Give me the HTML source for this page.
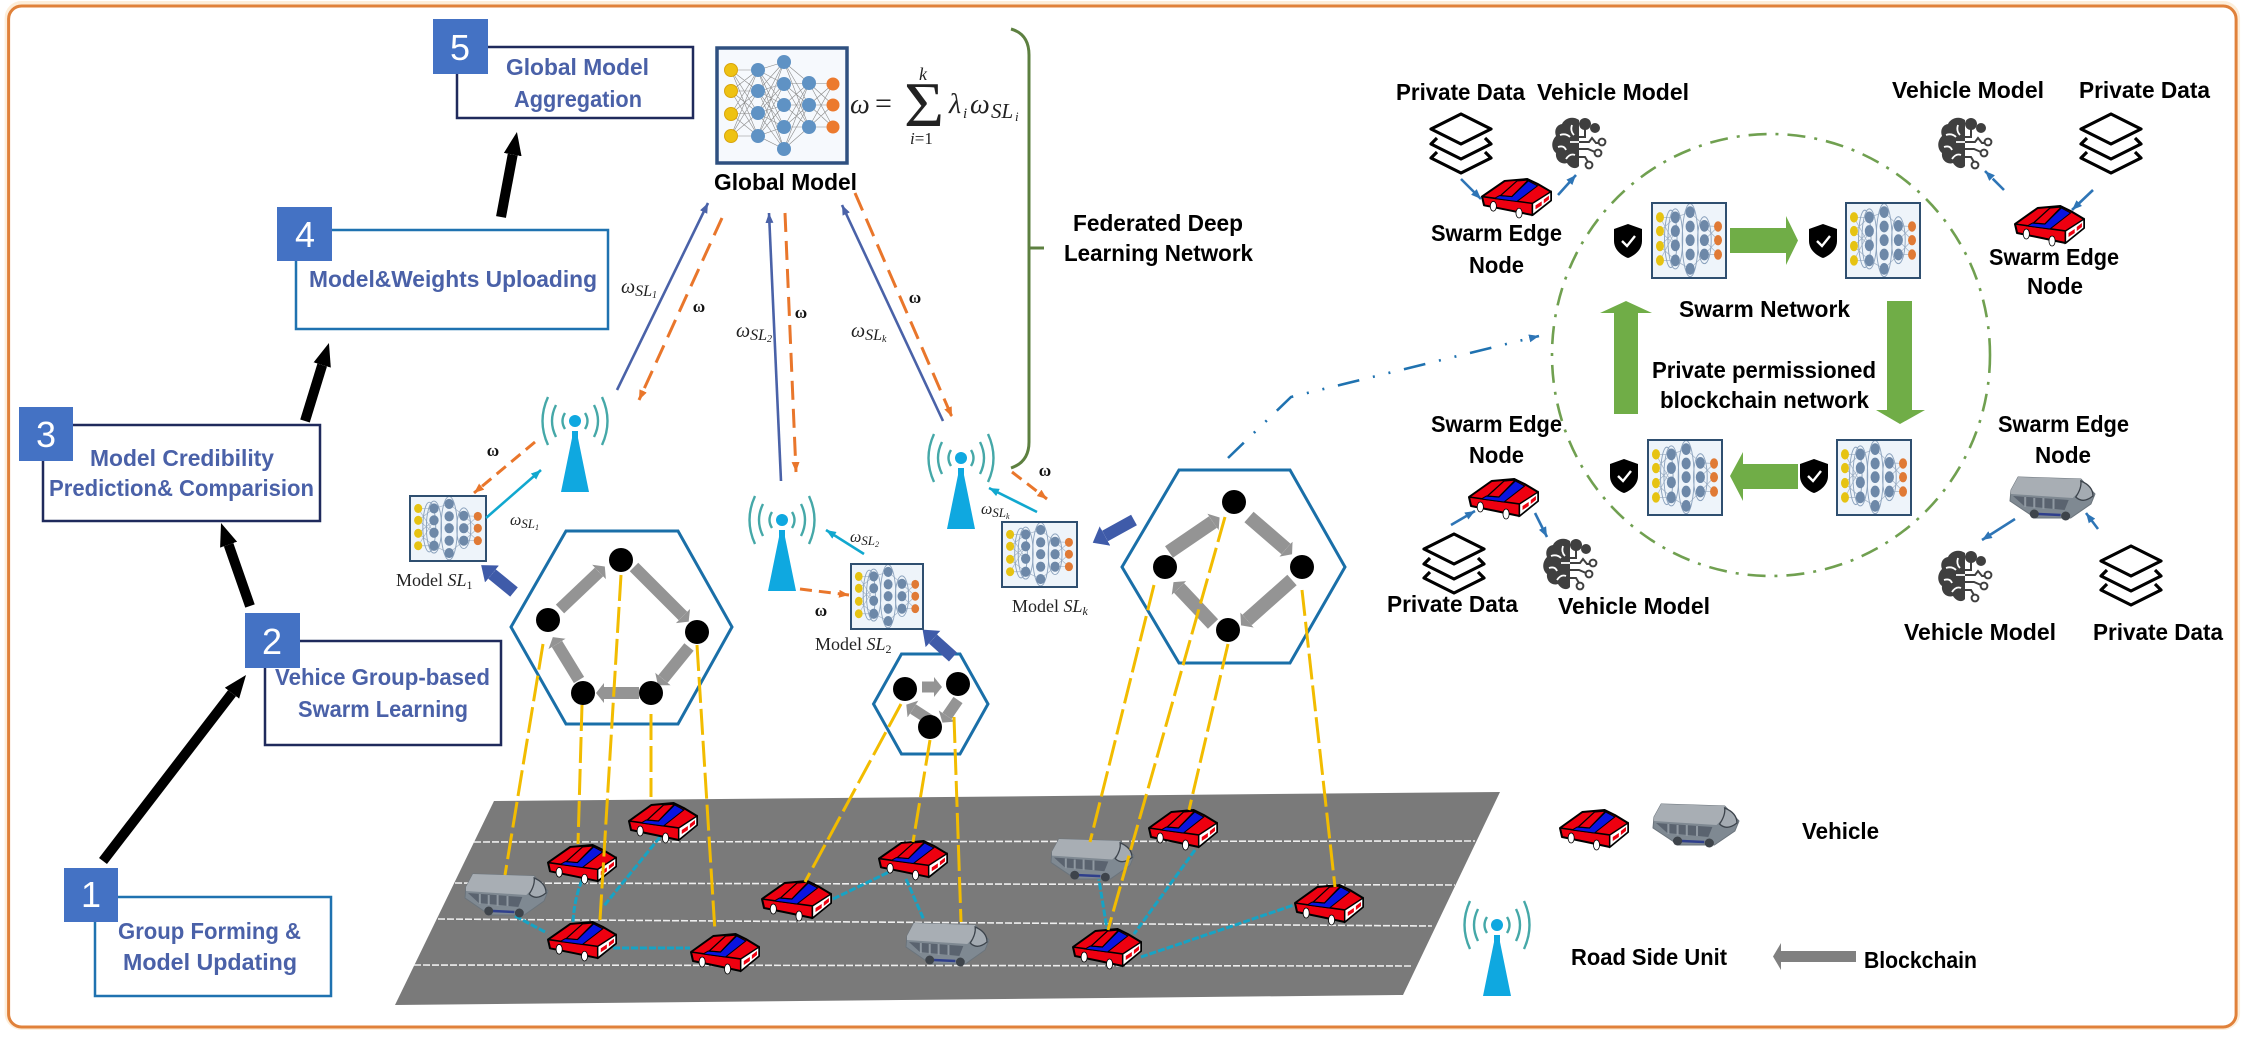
<!DOCTYPE html>
<html><head><meta charset="utf-8"><title>Swarm Federated Learning Diagram</title>
<style>html,body{margin:0;padding:0;background:#fff}svg{display:block}
.b{font:bold 23px "Liberation Sans",sans-serif;fill:#000}
.u{font:bold 23px "Liberation Sans",sans-serif;fill:#4a61a8}
.d{font:36px "Liberation Sans",sans-serif;fill:#fff;text-anchor:middle}
.m{font:18px "Liberation Serif",serif;fill:#222}
.o{font:bold 17px "Liberation Serif",serif;fill:#111;text-anchor:middle}
.w{font:italic 20px "Liberation Serif",serif;fill:#222}
</style></head><body>
<svg xmlns="http://www.w3.org/2000/svg" width="2249" height="1037" viewBox="0 0 2249 1037">
<defs>
<marker id="mK" markerUnits="userSpaceOnUse" markerWidth="24" markerHeight="20" refX="0" refY="9" orient="auto"><path d="M0 0L23 9L0 18Z" fill="#000"/></marker>
<marker id="mG" markerUnits="userSpaceOnUse" markerWidth="10" markerHeight="22" refX="0" refY="10" orient="auto"><path d="M0 0L8 10L0 20Z" fill="#949494"/></marker>
<marker id="mF" markerUnits="userSpaceOnUse" markerWidth="16" markerHeight="24" refX="0" refY="11" orient="auto"><path d="M0 0L14 11L0 22Z" fill="#3f5ba9"/></marker>
<marker id="mB" markerUnits="userSpaceOnUse" markerWidth="12" markerHeight="10" refX="10" refY="4" orient="auto"><path d="M0 0L10 4L0 8Z" fill="#4a62a8"/></marker>
<marker id="mO" markerUnits="userSpaceOnUse" markerWidth="12" markerHeight="10" refX="10" refY="4" orient="auto"><path d="M0 0L10 4L0 8Z" fill="#e9762b"/></marker>
<marker id="mT" markerUnits="userSpaceOnUse" markerWidth="12" markerHeight="10" refX="10" refY="4" orient="auto"><path d="M0 0L10 4L0 8Z" fill="#11a8cf"/></marker>
<marker id="mS" markerUnits="userSpaceOnUse" markerWidth="12" markerHeight="10" refX="10" refY="4" orient="auto"><path d="M0 0L10 4L0 8Z" fill="#2e75b6"/></marker>

<symbol id="car" viewBox="0 0 68 40" preserveAspectRatio="none" overflow="visible">
<path d="M0 18L22 2L44 0L54 5L67 13L67 22L49 37L26 32L2 27Z" fill="#ee0010" stroke="#000" stroke-width="2" stroke-linejoin="round"/>
<path d="M0 18L49 25L49 37" fill="none" stroke="#000" stroke-width="1.6"/>
<path d="M12 20L34 23L54 7L45 2L29 18L17 17Z" fill="#0a14e0" stroke="#000" stroke-width="1"/>
<path d="M18 17L34 2L45 1L29 18Z" fill="#ee0010" stroke="#000" stroke-width="1.2"/>
<path d="M49 25L67 13L67 22L49 37Z" fill="#fff" stroke="#000" stroke-width="1.4"/>
<path d="M52 27L58 23L58 27L52 31ZM60 21L65 17L65 21L60 25Z" fill="#ee0010"/>
<ellipse cx="11" cy="28" rx="3" ry="5" fill="#fff" stroke="#000" stroke-width=".8"/>
<ellipse cx="36" cy="35" rx="3" ry="5" fill="#fff" stroke="#000" stroke-width=".8"/>
</symbol>

<symbol id="bus" viewBox="0 0 84 44" preserveAspectRatio="none" overflow="visible">
<path d="M8 1L70 3L84 18L80 28L60 42L25 42L0 25L1 14Z" fill="#7f8992" stroke="#6b747c" stroke-width="1" stroke-linejoin="round"/>
<path d="M8 1L70 3L72 12L62 22L1 18L1 14Z" fill="#a8aeb4"/>
<path d="M70 5Q82 10 82 20Q72 28 65 21Q71 12 70 5Z" fill="#a4abb2" stroke="#3d444c" stroke-width="1.3"/>
<path d="M3 20L58 24L54 34L14 30Z" fill="#5a636f"/>
<path d="M15 21V31M24 22V32M33 22V33M43 23V33" stroke="#8f98a1" stroke-width="2"/>
<path d="M28 38L50 39" stroke="#2f3f8c" stroke-width="2.5"/>
<circle cx="24" cy="38" r="4.5" fill="#3e444b"/><circle cx="55" cy="40" r="4.5" fill="#3e444b"/>
</symbol>

<symbol id="nn" viewBox="0 0 130 115" preserveAspectRatio="none">
<rect width="130" height="115" fill="#f6f9fd"/>
<path d="M14 22L41 22M14 22L41 43M14 22L41 65M14 22L41 88M14 43L41 22M14 43L41 43M14 43L41 65M14 43L41 88M14 66L41 22M14 66L41 43M14 66L41 65M14 66L41 88M14 88L41 22M14 88L41 43M14 88L41 65M14 88L41 88M41 22L67 14M41 22L67 36M41 22L67 57M41 22L67 79M41 22L67 101M41 43L67 14M41 43L67 36M41 43L67 57M41 43L67 79M41 43L67 101M41 65L67 14M41 65L67 36M41 65L67 57M41 65L67 79M41 65L67 101M41 88L67 14M41 88L67 36M41 88L67 57M41 88L67 79M41 88L67 101M67 14L92 35M67 14L92 57M67 14L92 79M67 36L92 35M67 36L92 57M67 36L92 79M67 57L92 35M67 57L92 57M67 57L92 79M67 79L92 35M67 79L92 57M67 79L92 79M67 101L92 35M67 101L92 57M67 101L92 79M92 35L116 36M92 35L116 57M92 35L116 79M92 57L116 36M92 57L116 57M92 57L116 79M92 79L116 36M92 79L116 57M92 79L116 79" stroke="#8a8a8a" stroke-width=".6" fill="none"/>
<g fill="#eec212" stroke="#d8a50e"><circle cx="14" cy="22" r="6.5"/><circle cx="14" cy="43" r="6.5"/><circle cx="14" cy="66" r="6.5"/><circle cx="14" cy="88" r="6.5"/></g>
<g fill="#5f92c4"><circle cx="41" cy="22" r="7"/><circle cx="41" cy="43" r="7"/><circle cx="41" cy="65" r="7"/><circle cx="41" cy="88" r="7"/><circle cx="67" cy="14" r="7"/><circle cx="67" cy="36" r="7"/><circle cx="67" cy="57" r="7"/><circle cx="67" cy="79" r="7"/><circle cx="67" cy="101" r="7"/><circle cx="92" cy="35" r="7"/><circle cx="92" cy="57" r="7"/><circle cx="92" cy="79" r="7"/></g>
<g fill="#ec7a2e"><circle cx="116" cy="36" r="6.5"/><circle cx="116" cy="57" r="6.5"/><circle cx="116" cy="79" r="6.5"/></g>
</symbol>

<symbol id="nn2" viewBox="0 0 130 115" preserveAspectRatio="none">
<rect width="130" height="115" fill="#eef4fa"/>
<path d="M14 22L41 22M14 22L41 65M14 43L41 22M14 43L41 65M14 66L41 43M14 66L41 88M14 88L41 43M14 88L41 88M92 35L116 36M92 35L116 57M92 57L116 36M92 57L116 79M92 79L116 57M92 79L116 79M41 22L67 14M41 88L67 101M67 14L92 35M67 101L92 79" stroke="#a5b5c8" stroke-width="1.2" fill="none"/>
<g fill="none" stroke="#8ba2bd" stroke-width="1.6"><ellipse cx="41" cy="55" rx="13" ry="46"/><ellipse cx="67" cy="57" rx="14" ry="56"/><ellipse cx="33" cy="55" rx="11" ry="44"/><ellipse cx="92" cy="57" rx="12" ry="36"/></g>
<g fill="#e6c312"><ellipse cx="14" cy="22" rx="7" ry="8"/><ellipse cx="14" cy="43" rx="7" ry="8"/><ellipse cx="14" cy="66" rx="7" ry="8"/><ellipse cx="14" cy="88" rx="7" ry="8"/></g>
<g fill="#6d88a8"><ellipse cx="41" cy="22" rx="8" ry="9"/><ellipse cx="41" cy="43" rx="8" ry="9"/><ellipse cx="41" cy="65" rx="8" ry="9"/><ellipse cx="41" cy="88" rx="8" ry="9"/><ellipse cx="67" cy="14" rx="8" ry="9"/><ellipse cx="67" cy="36" rx="8" ry="9"/><ellipse cx="67" cy="57" rx="8" ry="9"/><ellipse cx="67" cy="79" rx="8" ry="9"/><ellipse cx="67" cy="101" rx="8" ry="9"/><ellipse cx="92" cy="35" rx="8" ry="9"/><ellipse cx="92" cy="57" rx="8" ry="9"/><ellipse cx="92" cy="79" rx="8" ry="9"/></g>
<g fill="#e07a35"><ellipse cx="116" cy="36" rx="7" ry="8"/><ellipse cx="116" cy="57" rx="7" ry="8"/><ellipse cx="116" cy="79" rx="7" ry="8"/></g>
</symbol>

<symbol id="rsu" viewBox="-34 -26 68 100" overflow="visible">
<path d="M-3 10L3 10L3 17L14 71L-14 71L-3 17Z" fill="#0fa8e0"/>
<circle r="6" fill="#0fa8e0"/>
<g fill="none" stroke="#45a8a8" stroke-width="2.4">
<path d="M-10 -8Q-15 0 -10 8M10 -8Q15 0 10 8"/>
<path d="M-19 -16Q-27 0 -19 16M19 -16Q27 0 19 16"/>
<path d="M-27 -24Q-38 0 -27 24M27 -24Q38 0 27 24"/>
</g>
</symbol>

<symbol id="lay" viewBox="0 0 62 62" overflow="visible">
<g fill="#fff" stroke="#000" stroke-width="3.2" stroke-linejoin="round">
<path d="M7 39L1 45L31 60L61 45L55 39" fill="none"/>
<path d="M7 25L1 31L31 46L61 31L55 25" fill="none"/>
<path d="M31 1L61 16L31 31L1 16Z"/>
</g>
</symbol>

<symbol id="brain" viewBox="0 0 54 53" overflow="visible">
<path d="M27 3C20-2 12 2 10 7C4 8 2 14 4 19C-1 24-1 32 4 36C3 43 9 48 15 46C18 51 24 53 27 49Z" fill="#3f3f3f"/>
<circle cx="33" cy="7" r="6" fill="#3f3f3f"/><circle cx="43" cy="11" r="5" fill="#3f3f3f"/>
<path d="M8 18Q14 16 18 20M20 8Q18 14 22 18M6 30Q12 28 14 33M14 42Q18 36 23 38M18 25H27" stroke="#fff" stroke-width="1.8" fill="none"/>
<path d="M27 25H37L40 21L44 26H47M27 32H36L43 35M27 20H33V12M27 40H33L36 45" fill="none" stroke="#3f3f3f" stroke-width="2"/>
<circle cx="50" cy="25" r="3.4" fill="none" stroke="#3f3f3f" stroke-width="2"/>
<circle cx="46" cy="36" r="3.4" fill="none" stroke="#3f3f3f" stroke-width="2"/>
<circle cx="37" cy="48" r="3.4" fill="none" stroke="#3f3f3f" stroke-width="2"/>
</symbol>

<symbol id="sh" viewBox="0 0 28 34" overflow="visible">
<path d="M14 0L28 5V17C28 26 20 32 14 34C8 32 0 26 0 17V5Z" fill="#000"/>
<path d="M8 17L13 22L21 12" fill="none" stroke="#fff" stroke-width="2.4"/>
</symbol>
</defs>

<rect width="2249" height="1037" fill="#fff"/>
<rect x="8.6" y="5" width="2227.5" height="1021" rx="13" fill="none" stroke="#fdeeda" stroke-width="8"/>
<rect x="8.6" y="6" width="2227.5" height="1021" rx="13" fill="#fff" stroke="#e0813a" stroke-width="3"/>

<!-- Road -->
<polygon points="494,801 1500,792 1403,995 395,1005" fill="#7a7a7a"/>
<g stroke="#eeeeee" stroke-width="1.6" stroke-dasharray="7 2" fill="none">
<path d="M474 842L1475 841"/><path d="M455 883L1455 885"/><path d="M438 919L1432 926"/><path d="M414 965L1412 966"/>
</g>
<!-- teal links -->
<g stroke="#17a3c4" stroke-width="3" fill="none" stroke-dasharray="7 2">
<path d="M515 916L547 933"/><path d="M582 880Q574 900 573 923"/><path d="M660 837L603 907"/><path d="M613 948L690 948"/>
<path d="M833 899L889 872"/><path d="M906 879L924 920"/><path d="M1098 874L1107 929"/><path d="M1195 850L1134 934"/><path d="M1141 957L1294 905"/>
</g>
<!-- vehicles -->
<use href="#car" x="629" y="803" width="69" height="40"/>
<use href="#car" x="548" y="845" width="69" height="39"/>
<use href="#car" x="548" y="922" width="69" height="39"/>
<use href="#car" x="691" y="934" width="69" height="40"/>
<use href="#bus" x="465" y="873" width="83" height="44"/>
<use href="#car" x="762" y="881" width="70" height="40"/>
<use href="#car" x="879" y="841" width="69" height="39"/>
<use href="#bus" x="906" y="922" width="83" height="44"/>
<use href="#bus" x="1051" y="838" width="83" height="43"/>
<use href="#car" x="1149" y="810" width="69" height="40"/>
<use href="#car" x="1073" y="929" width="69" height="40"/>
<use href="#car" x="1295" y="885" width="69" height="40"/>

<!-- Hexagons -->
<g fill="#fff" stroke="#1a6fa8" stroke-width="3">
<polygon points="511,627 566,531 678,531 732,627 678,724 566,724"/>
<polygon points="873.5,704 901.5,654 960,654 988,704 960,754 901.5,754"/>
<polygon points="1122,567 1179,470 1290,470 1345,567 1290,663 1179,663"/>
</g>
<!-- grey arrows -->
<g stroke="#949494" stroke-width="12" fill="none">
<path d="M560 609L599 572" marker-end="url(#mG)"/><path d="M634 567L683 616" marker-end="url(#mG)"/><path d="M689 647L663 679" marker-end="url(#mG)"/><path d="M639 693L604 693" marker-end="url(#mG)"/><path d="M579 680L557 644" marker-end="url(#mG)"/>
<path d="M922 687L934 687" stroke-width="11" marker-end="url(#mG)"/><path d="M958 700L947 716" stroke-width="11" marker-end="url(#mG)"/><path d="M930 720L913 709" stroke-width="11" marker-end="url(#mG)"/>
<path d="M1169 552L1213 522" stroke-width="14" marker-end="url(#mG)"/><path d="M1249 517L1286 549" stroke-width="14" marker-end="url(#mG)"/><path d="M1292 580L1247 620" stroke-width="14" marker-end="url(#mG)"/><path d="M1213 624L1179 588" stroke-width="14" marker-end="url(#mG)"/>
</g>
<!-- yellow dashes -->
<g stroke="#f2bc00" stroke-width="3" fill="none" stroke-dasharray="26 6">
<path d="M543 644L505 875"/><path d="M582 705L578 844"/><path d="M621 575L600 920"/><path d="M651 714L651 797"/><path d="M697 645L715 932"/>
<path d="M901 704L805 882"/><path d="M930 740L913 842"/><path d="M954 717L961 922"/>
<path d="M1154 585L1090 842"/><path d="M1225 517L1108 930"/><path d="M1228 644L1189 810"/><path d="M1302 590L1335 887"/>
</g>
<!-- swarm nodes -->
<g fill="#000">
<circle cx="621" cy="560" r="12"/><circle cx="548" cy="620" r="12"/><circle cx="697" cy="632" r="12"/><circle cx="583" cy="693" r="12"/><circle cx="651" cy="693" r="12"/>
<circle cx="905" cy="689" r="12"/><circle cx="958" cy="684" r="12"/><circle cx="930" cy="727" r="12"/>
<circle cx="1234" cy="502" r="12"/><circle cx="1165" cy="567" r="12"/><circle cx="1302" cy="567" r="12"/><circle cx="1228" cy="630" r="12"/>
</g>
<!-- fat blue -->
<g stroke="#3f5ba9" stroke-width="12" fill="none">
<path d="M514 592L492 574" marker-end="url(#mF)"/><path d="M953 657L933 639" marker-end="url(#mF)"/><path d="M1134 520L1105 536" marker-end="url(#mF)"/>
</g>
<!-- black process arrows -->
<g stroke="#000" stroke-width="10" fill="none">
<path d="M501 217L512.7 154.6" marker-end="url(#mK)"/>
<path d="M305 421L322.2 365" marker-end="url(#mK)"/>
<path d="M250 606L228.6 544.7" marker-end="url(#mK)"/>
<path d="M103 861L232 693.2" marker-end="url(#mK)"/>
</g>
<!-- Process boxes -->
<g fill="#fff" stroke-width="2.5">
<rect x="457" y="47" width="236" height="71" stroke="#1f2a5c"/>
<rect x="296" y="230" width="312" height="99" stroke="#1f72b0"/>
<rect x="43" y="425" width="277" height="96" stroke="#1f2a5c"/>
<rect x="265" y="641" width="236" height="104" stroke="#1f2a5c"/>
<rect x="95" y="897" width="236" height="99" stroke="#1f72b0"/>
</g>
<g fill="#4472c4">
<rect x="433" y="19" width="55" height="55"/><rect x="277" y="207" width="55" height="54"/><rect x="19" y="407" width="54" height="54"/><rect x="245" y="613" width="55" height="55"/><rect x="64" y="868" width="54" height="54"/>
</g>
<text class="d" x="460" y="60">5</text><text class="d" x="305" y="247">4</text><text class="d" x="46" y="447">3</text><text class="d" x="272" y="654">2</text><text class="d" x="91" y="907">1</text>
<text class="u" x="506" y="75" textLength="143" lengthAdjust="spacingAndGlyphs">Global Model</text>
<text class="u" x="514" y="107" textLength="128" lengthAdjust="spacingAndGlyphs">Aggregation</text>
<text class="u" x="309" y="287" textLength="288" lengthAdjust="spacingAndGlyphs">Model&amp;Weights Uploading</text>
<text class="u" x="90" y="466" textLength="184" lengthAdjust="spacingAndGlyphs">Model Credibility</text>
<text class="u" x="49" y="496" textLength="265" lengthAdjust="spacingAndGlyphs">Prediction&amp; Comparision</text>
<text class="u" x="275" y="685" textLength="215" lengthAdjust="spacingAndGlyphs">Vehice Group-based</text>
<text class="u" x="298" y="717" textLength="170" lengthAdjust="spacingAndGlyphs">Swarm Learning</text>
<text class="u" x="118" y="939" textLength="183" lengthAdjust="spacingAndGlyphs">Group Forming &amp;</text>
<text class="u" x="123" y="970" textLength="174" lengthAdjust="spacingAndGlyphs">Model Updating</text>

<!-- Global model -->
<use href="#nn" x="717" y="48" width="130" height="115"/>
<rect x="717" y="48" width="130" height="115" fill="none" stroke="#2f5080" stroke-width="3.5"/>
<text class="b" x="714" y="190" textLength="143" lengthAdjust="spacingAndGlyphs">Global Model</text>
<g font-family="Liberation Serif,serif" fill="#222">
<text x="850" y="113" font-size="28" font-style="italic">ω</text>
<text x="875" y="113" font-size="30">=</text>
<text x="904" y="126" font-size="64" textLength="40" lengthAdjust="spacingAndGlyphs">Σ</text>
<text x="919" y="80" font-size="18" font-style="italic">k</text>
<text x="910" y="144" font-size="17"><tspan font-style="italic">i</tspan>=1</text>
<text x="949" y="113" font-size="28" font-style="italic">λ</text>
<text x="963" y="118" font-size="15" font-style="italic">i</text>
<text x="970" y="113" font-size="28" font-style="italic">ω</text>
<text x="991" y="118" font-size="21" font-style="italic">SL</text>
<text x="1015" y="121" font-size="13" font-style="italic">i</text>
</g>
<!-- brace -->
<path d="M1011 29Q1029 34 1029 55V442Q1029 462 1011 468M1029 248H1044" fill="none" stroke="#5d8040" stroke-width="3"/>
<text class="b" x="1073" y="231" textLength="170" lengthAdjust="spacingAndGlyphs">Federated Deep</text>
<text class="b" x="1064" y="261" textLength="189" lengthAdjust="spacingAndGlyphs">Learning Network</text>

<!-- Small models -->
<use href="#nn2" x="410" y="496" width="76" height="65"/><rect x="410" y="496" width="76" height="65" fill="none" stroke="#2f4f70" stroke-width="2"/>
<use href="#nn2" x="851" y="564" width="72" height="65"/><rect x="851" y="564" width="72" height="65" fill="none" stroke="#2f4f70" stroke-width="2"/>
<use href="#nn2" x="1002" y="522" width="75" height="65"/><rect x="1002" y="522" width="75" height="65" fill="none" stroke="#2f4f70" stroke-width="2"/>
<text class="m" x="396" y="586">Model <tspan font-style="italic">SL</tspan><tspan font-size="12" dy="3">1</tspan></text>
<text class="m" x="815" y="650">Model <tspan font-style="italic">SL</tspan><tspan font-size="12" dy="3">2</tspan></text>
<text class="m" x="1012" y="612">Model <tspan font-style="italic">SL</tspan><tspan font-size="12" dy="3" font-style="italic">k</tspan></text>

<!-- RSUs -->
<use href="#rsu" x="541" y="395" width="68" height="100"/>
<use href="#rsu" x="748" y="494" width="68" height="100"/>
<use href="#rsu" x="927" y="432" width="68" height="100"/>
<use href="#rsu" x="1463" y="899" width="68" height="100"/>

<!-- Uplink / downlink -->
<g fill="none" stroke="#4a62a8" stroke-width="2.6">
<path d="M617 390L708 203" marker-end="url(#mB)"/><path d="M781 481L769 213" marker-end="url(#mB)"/><path d="M943 421L842 205" marker-end="url(#mB)"/>
</g>
<g fill="none" stroke="#e9762b" stroke-width="3" stroke-dasharray="19 9">
<path d="M722 218L639 400" marker-end="url(#mO)"/><path d="M785 213L796 472" marker-end="url(#mO)"/><path d="M855 193L952 417" marker-end="url(#mO)"/>
<path d="M535 442L474 493" stroke-dasharray="12 7" marker-end="url(#mO)"/><path d="M800 589L849 595" stroke-dasharray="12 7" marker-end="url(#mO)"/><path d="M1012 472L1047 499" stroke-dasharray="12 7" marker-end="url(#mO)"/>
</g>
<g fill="none" stroke="#11a8cf" stroke-width="2.6">
<path d="M486 518L541 470" marker-end="url(#mT)"/><path d="M864 554L826 530" marker-end="url(#mT)"/><path d="M1037 512L989 488" marker-end="url(#mT)"/>
</g>
<text class="o" x="493" y="456">ω</text><text class="o" x="699" y="312">ω</text><text class="o" x="801" y="318">ω</text><text class="o" x="915" y="303">ω</text><text class="o" x="1045" y="476">ω</text><text class="o" x="821" y="616">ω</text>
<text class="w" x="621" y="293">ω<tspan font-size="16" dy="3">SL</tspan><tspan font-size="10" dy="2">1</tspan></text>
<text class="w" x="736" y="337">ω<tspan font-size="16" dy="3">SL</tspan><tspan font-size="10" dy="2">2</tspan></text>
<text class="w" x="851" y="337">ω<tspan font-size="16" dy="3">SL</tspan><tspan font-size="10" dy="2">k</tspan></text>
<text class="w" x="510" y="525" style="font-size:16px">ω<tspan font-size="13" dy="3">SL</tspan><tspan font-size="8" dy="2">1</tspan></text>
<text class="w" x="850" y="542" style="font-size:16px">ω<tspan font-size="13" dy="3">SL</tspan><tspan font-size="8" dy="2">2</tspan></text>
<text class="w" x="981" y="514" style="font-size:16px">ω<tspan font-size="13" dy="3">SL</tspan><tspan font-size="8" dy="2">k</tspan></text>

<!-- dash dot link -->
<path d="M1228 458L1291 397L1539 336" fill="none" stroke="#1f72b0" stroke-width="2.6" stroke-dasharray="22 14 2 14 2 14" marker-end="url(#mS)"/>

<!-- Swarm circle -->
<ellipse cx="1771" cy="355" rx="219" ry="221" fill="none" stroke="#70a050" stroke-width="2.6" stroke-dasharray="18 9 3 9"/>
<use href="#nn2" x="1652" y="203" width="74" height="75"/><rect x="1652" y="203" width="74" height="75" fill="none" stroke="#2f4f70" stroke-width="2"/>
<use href="#nn2" x="1846" y="203" width="74" height="75"/><rect x="1846" y="203" width="74" height="75" fill="none" stroke="#2f4f70" stroke-width="2"/>
<use href="#nn2" x="1648" y="440" width="74" height="75"/><rect x="1648" y="440" width="74" height="75" fill="none" stroke="#2f4f70" stroke-width="2"/>
<use href="#nn2" x="1837" y="440" width="74" height="75"/><rect x="1837" y="440" width="74" height="75" fill="none" stroke="#2f4f70" stroke-width="2"/>
<use href="#sh" x="1614" y="224" width="28" height="34"/><use href="#sh" x="1809" y="224" width="28" height="34"/><use href="#sh" x="1610" y="459" width="28" height="34"/><use href="#sh" x="1800" y="459" width="28" height="34"/>
<g fill="#70ad47">
<polygon points="1730,228 1786,228 1786,216 1798,240.5 1786,265 1786,253 1730,253"/>
<polygon points="1887,301 1912,301 1912,410 1925,410 1900,424 1876,410 1887,410"/>
<polygon points="1798,464 1743,464 1743,452 1730,476 1743,501 1743,489 1798,489"/>
<polygon points="1614,414 1638,414 1638,313 1652,313 1626,301 1600,313 1614,313"/>
</g>
<g>
<text class="b" x="1396" y="100" textLength="129" lengthAdjust="spacingAndGlyphs">Private Data</text>
<text class="b" x="1537" y="100" textLength="152" lengthAdjust="spacingAndGlyphs">Vehicle Model</text>
<text class="b" x="1431" y="241" textLength="131" lengthAdjust="spacingAndGlyphs">Swarm Edge</text>
<text class="b" x="1469" y="273" textLength="55" lengthAdjust="spacingAndGlyphs">Node</text>
<text class="b" x="1892" y="98" textLength="152" lengthAdjust="spacingAndGlyphs">Vehicle Model</text>
<text class="b" x="2079" y="98" textLength="131" lengthAdjust="spacingAndGlyphs">Private Data</text>
<text class="b" x="1989" y="265" textLength="130" lengthAdjust="spacingAndGlyphs">Swarm Edge</text>
<text class="b" x="2027" y="294" textLength="56" lengthAdjust="spacingAndGlyphs">Node</text>
<text class="b" x="1679" y="317" textLength="171" lengthAdjust="spacingAndGlyphs">Swarm Network</text>
<text class="b" x="1652" y="378" textLength="224" lengthAdjust="spacingAndGlyphs">Private permissioned</text>
<text class="b" x="1660" y="408" textLength="209" lengthAdjust="spacingAndGlyphs">blockchain network</text>
<text class="b" x="1431" y="432" textLength="131" lengthAdjust="spacingAndGlyphs">Swarm Edge</text>
<text class="b" x="1469" y="463" textLength="55" lengthAdjust="spacingAndGlyphs">Node</text>
<text class="b" x="1998" y="432" textLength="131" lengthAdjust="spacingAndGlyphs">Swarm Edge</text>
<text class="b" x="2035" y="463" textLength="56" lengthAdjust="spacingAndGlyphs">Node</text>
<text class="b" x="1387" y="612" textLength="131" lengthAdjust="spacingAndGlyphs">Private Data</text>
<text class="b" x="1558" y="614" textLength="152" lengthAdjust="spacingAndGlyphs">Vehicle Model</text>
<text class="b" x="1904" y="640" textLength="152" lengthAdjust="spacingAndGlyphs">Vehicle Model</text>
<text class="b" x="2093" y="640" textLength="130" lengthAdjust="spacingAndGlyphs">Private Data</text>
</g>
<use href="#lay" x="1430" y="113" width="62" height="62"/><use href="#lay" x="2080" y="113" width="62" height="62"/><use href="#lay" x="1423" y="533" width="62" height="62"/><use href="#lay" x="2100" y="545" width="62" height="62"/>
<use href="#brain" x="1552" y="117" width="54" height="53"/><use href="#brain" x="1938" y="117" width="54" height="53"/><use href="#brain" x="1543" y="538" width="54" height="53"/><use href="#brain" x="1938" y="550" width="54" height="53"/>
<use href="#car" x="1482" y="179" width="70" height="39"/><use href="#car" x="2015" y="206" width="70" height="40"/><use href="#car" x="1469" y="479" width="70" height="40"/>
<use href="#bus" x="2010" y="476" width="85" height="44"/>
<g fill="none" stroke="#2e75b6" stroke-width="2.6">
<path d="M1461 179L1481 199" marker-end="url(#mS)"/><path d="M1558 195L1576 175" marker-end="url(#mS)"/>
<path d="M2004 190L1985 171" stroke-dasharray="16 8" marker-end="url(#mS)"/><path d="M2093 190L2072 210" marker-end="url(#mS)"/>
<path d="M1451 525L1475 511" marker-end="url(#mS)"/><path d="M1535 513L1547 537" marker-end="url(#mS)"/>
<path d="M2015 519L1982 540" marker-end="url(#mS)"/><path d="M2098 529L2086 513" marker-end="url(#mS)"/>
</g>

<!-- Legend -->
<use href="#car" x="1560" y="810" width="69" height="40"/>
<use href="#bus" x="1653" y="803" width="86" height="44"/>
<text class="b" x="1802" y="839" textLength="77" lengthAdjust="spacingAndGlyphs">Vehicle</text>
<text class="b" x="1571" y="965" textLength="156" lengthAdjust="spacingAndGlyphs">Road Side Unit</text>
<text class="b" x="1864" y="968" textLength="113" lengthAdjust="spacingAndGlyphs">Blockchain</text>
<polygon points="1856,951 1781,951 1781,943 1773,956.5 1781,970 1781,962 1856,962" fill="#808080"/>
</svg>
</body></html>
